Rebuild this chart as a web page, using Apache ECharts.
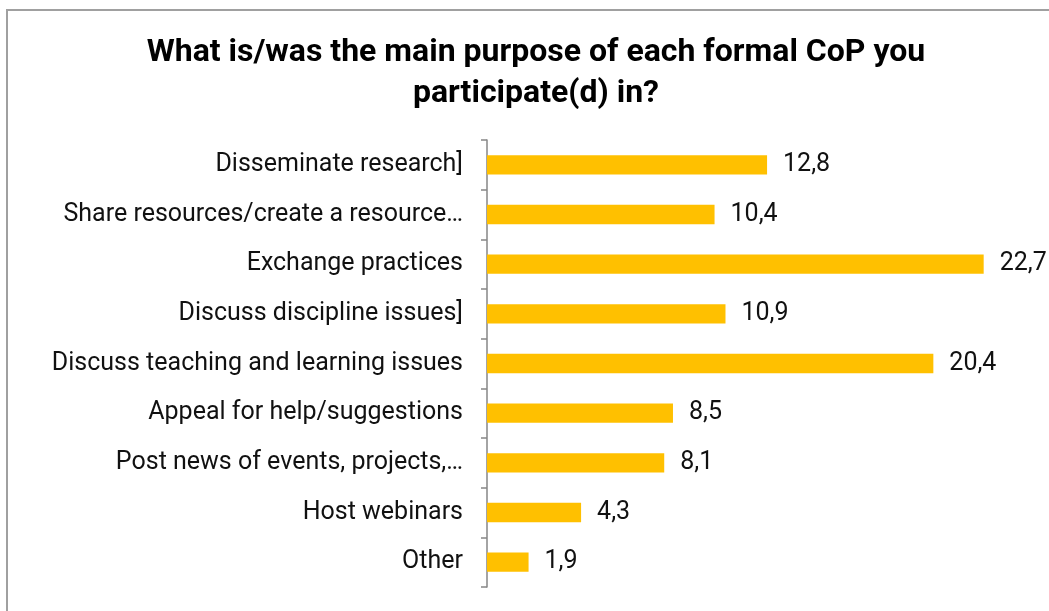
<!DOCTYPE html>
<html>
<head>
<meta charset="utf-8">
<script src="https://cdn.jsdelivr.net/npm/echarts@6/dist/echarts.min.js"></script>
<style>
  html, body { margin: 0; padding: 0; background: #fff; }
  #chart { width: 1049px; height: 611px; }
</style>
</head>
<body>
<div id="chart"></div>
<script>
// Purposes of formal communities of practice (percent of responses)
const categories = [
  'Disseminate research]',
  'Share resources/create a resource…',
  'Exchange practices',
  'Discuss discipline issues]',
  'Discuss teaching and learning issues',
  'Appeal for help/suggestions',
  'Post news of events, projects,…',
  'Host webinars',
  'Other'
];
const shares = [12.8, 10.4, 22.7, 10.9, 20.4, 8.5, 8.1, 4.3, 1.9];
const titleText = 'What is/was the main purpose of each formal CoP you\nparticipate(d) in?';

const chart = echarts.init(document.getElementById('chart'), null, { renderer: 'canvas' });

chart.setOption({
  backgroundColor: '#ffffff',
  animation: false,
  title: {
    text: titleText,
    left: 531,
    top: 27,
    textAlign: 'center',
    textStyle: {
      fontFamily: 'Roboto',
      fontWeight: 'bold',
      fontSize: 32,
      lineHeight: 41,
      color: '#000000'
    }
  },
  graphic: [{
    type: 'rect',
    silent: true,
    shape: { x: 7, y: 10, width: 1100, height: 700 },
    style: { fill: 'none', stroke: '#a0a0a0', lineWidth: 2 }
  }],
  grid: {
    left: 487,
    top: 140,
    width: 547,
    bottom: 24,
    containLabel: false
  },
  xAxis: {
    type: 'value',
    min: 0,
    max: 25,
    show: false
  },
  yAxis: {
    type: 'category',
    data: categories,
    inverse: true,
    axisLine: { show: true, lineStyle: { color: '#868686', width: 1.5 } },
    axisTick: { show: true, length: 6, lineStyle: { color: '#868686', width: 1.5 } },
    axisLabel: {
      margin: 24,
      fontFamily: 'Roboto',
      fontSize: 25,
      color: '#111111'
    },
    splitLine: { show: false }
  },
  series: [{
    type: 'bar',
    data: shares,
    barCategoryGap: '61%',
    itemStyle: { color: '#FFC000' },
    label: {
      show: true,
      position: 'right',
      distance: 16,
      fontFamily: 'Roboto',
      fontSize: 25,
      color: '#111111',
      formatter: p => p.value.toFixed(1).replace('.', ',')
    }
  }]
});
</script>
</body>
</html>
